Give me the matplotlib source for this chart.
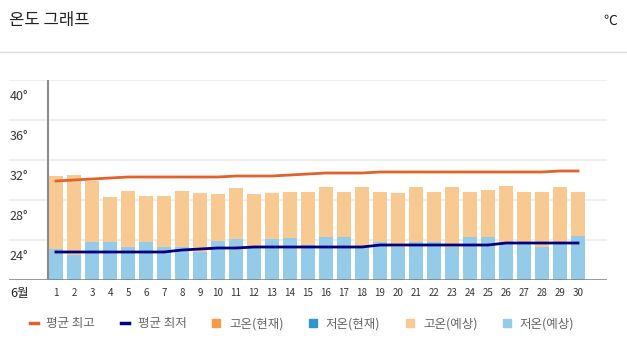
import numpy as np
import matplotlib
matplotlib.use('Agg')
import matplotlib.pyplot as plt
from matplotlib.lines import Line2D

plt.rcParams['font.family'] = ['Noto Sans CJK KR', 'DejaVu Sans']

# data
days = list(range(1, 31))
high_fc = [30.4, 30.5, 29.9, 28.3, 28.9, 28.4, 28.4, 28.9, 28.7, 28.6,
           29.2, 28.6, 28.7, 28.8, 28.8, 29.3, 28.8, 29.3, 28.8, 28.7,
           29.3, 28.8, 29.3, 28.8, 29.0, 29.4, 28.8, 28.8, 29.3, 28.8]
low_fc = [23.1, 22.5, 23.8, 23.8, 23.3, 23.8, 23.3, 23.3, 22.8, 23.9,
          24.1, 23.3, 24.1, 24.2, 23.5, 24.3, 24.3, 23.4, 23.8, 23.3,
          23.8, 23.8, 23.3, 24.3, 24.3, 23.7, 23.7, 23.3, 23.7, 24.4]
avg_high = [29.9, 30.0, 30.1, 30.2, 30.3, 30.3, 30.3, 30.3, 30.3, 30.3,
            30.4, 30.4, 30.4, 30.5, 30.6, 30.7, 30.7, 30.7, 30.8, 30.8,
            30.8, 30.8, 30.8, 30.8, 30.8, 30.8, 30.8, 30.8, 30.9, 30.9]
avg_low = [22.8, 22.8, 22.8, 22.8, 22.8, 22.8, 22.8, 23.0, 23.1, 23.2,
           23.2, 23.3, 23.3, 23.3, 23.3, 23.3, 23.3, 23.3, 23.5, 23.5,
           23.5, 23.5, 23.5, 23.5, 23.5, 23.7, 23.7, 23.7, 23.7, 23.7]
y_ticks = [40, 36, 32, 28, 24]
legend_names = ['평균 최고', '평균 최저', '고온(현재)', '저온(현재)', '고온(예상)', '저온(예상)']

# colours
c_avg_high = '#e2622b'
c_avg_low = '#000080'
c_high_now = '#f59a45'
c_low_now = '#2f95cf'
c_high_fc = '#f8c991'
c_low_fc = '#93cbe8'

W, H = 627, 353
fig = plt.figure(figsize=(W / 100, H / 100), dpi=100)
ax = fig.add_axes([9 / W, (H - 280) / H, 598 / W, 200 / H])

ymin, ymax = 20, 40
x_left = 1 - 47 / 18
x_right = 30 + 29 / 18
ax.set_xlim(x_left, x_right)
ax.set_ylim(ymin, ymax)

# grid
for v in y_ticks:
    ax.axhline(v, color='#eeeeee', lw=1.5, zorder=0)
    ax.text(-1.05, v - 1.6, f'{v}°', ha='center', va='center',
            fontsize=9, color='#333333')

# bars
x = np.array(days)
bottom = ymin
ax.bar(x, np.array(high_fc) - bottom, bottom=bottom, width=0.74,
       color=c_high_fc, zorder=2)
ax.bar(x, np.array(low_fc) - bottom, bottom=bottom, width=0.74,
       color=c_low_fc, zorder=3)

# mean lines
ax.plot(x, avg_high, color=c_avg_high, lw=2, zorder=4)
ax.plot(x, avg_low, color=c_avg_low, lw=2, zorder=4)

# axes lines
for s in ax.spines.values():
    s.set_visible(False)
ax.axhline(ymin, color='#7a7a7a', lw=1.8, zorder=5)
ax.plot([1 - 8 / 18, 1 - 8 / 18], [ymin, ymax], color='#8a8a8a', lw=1.5, zorder=5)

ax.set_yticks([])
ax.set_xticks(days)
ax.set_xticklabels([str(d) for d in days], fontsize=7, color='#333333')
ax.tick_params(axis='x', length=0, pad=6)
ax.text(x_left + 0.05, ymin - 1.3, '6월', ha='left', va='center',
        fontsize=9, color='#222222', fontweight='medium')

# title
fig.text(9 / W, 1 - 21 / H, '온도 그래프', fontsize=12, color='#222222',
         ha='left', va='center')
fig.text(617 / W, 1 - 21 / H, '℃', fontsize=10, color='#222222',
         ha='right', va='center')
fig.add_artist(Line2D([0, 1], [1 - 52 / H, 1 - 52 / H], color='#dddddd', lw=1))

# legend
handles = [
    Line2D([], [], color=c_avg_high, lw=2.5),
    Line2D([], [], color=c_avg_low, lw=2.5),
    Line2D([], [], color=c_high_now, marker='s', ls='none', markersize=6),
    Line2D([], [], color=c_low_now, marker='s', ls='none', markersize=6),
    Line2D([], [], color=c_high_fc, marker='s', ls='none', markersize=6),
    Line2D([], [], color=c_low_fc, marker='s', ls='none', markersize=6),
]
leg = fig.legend(handles, legend_names, loc='center', ncol=6, frameon=False,
                 bbox_to_anchor=(302 / W, 1 - 324 / H), fontsize=9,
                 handlelength=0.65, handletextpad=0.7, columnspacing=2.05)
for t in leg.get_texts():
    t.set_color('#666666')

fig.savefig('out.png', dpi=100, facecolor='white')
